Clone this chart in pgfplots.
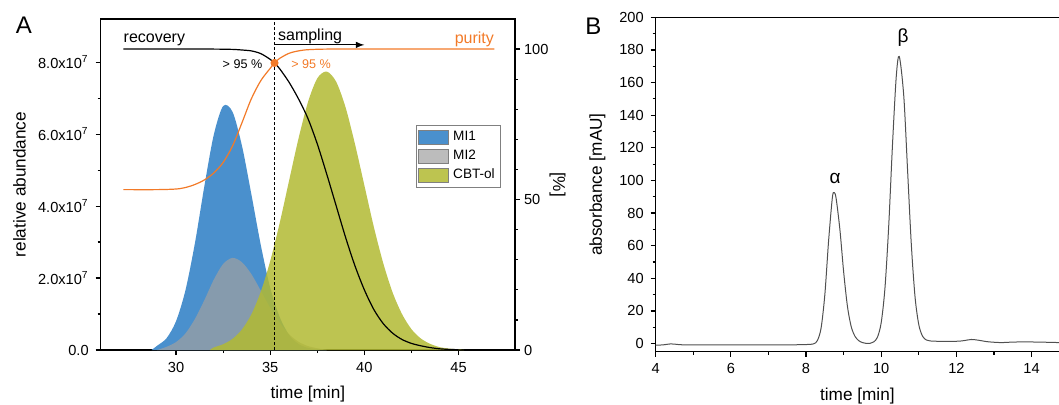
\documentclass[border=0pt]{standalone}
\usepackage{fontspec}
\setmainfont{Liberation Sans}
\usepackage{pgfplots}
\pgfplotsset{compat=1.18}

\definecolor{mblue}{RGB}{74,144,205}
\definecolor{mgray}{RGB}{160,160,160}
\definecolor{mgreen}{RGB}{178,186,50}
\definecolor{morange}{RGB}{242,122,40}
\definecolor{trace}{RGB}{80,80,80}

\pgfplotsset{
  every axis/.append style={
    scale only axis, tick align=outside,
    axis line style={line width=0.7pt},
    major tick length=2.5pt, minor tick length=1.5pt,
    every tick/.style={black, line width=0.6pt},
    tick label style={font=\fontsize{7.3}{8}\selectfont},
    label style={font=\fontsize{8.6}{10}\selectfont},
    /pgf/number format/assume math mode=true,
  },
}

\begin{document}
\begin{tikzpicture}

% ---------- panel A, left axis: abundance (units of 1e7)
\begin{axis}[
  name=aleft, at={(50.35pt,27pt)}, anchor=south west,
  width=207.15pt, height=165.5pt,
  xmin=26, xmax=48, ymin=0, ymax=9.2,
  xtick={30,35,40,45}, minor x tick num=1,
  ytick={0,2,4,6,8}, minor y tick num=1,
  yticklabels={0.0, 2.0x10\textsuperscript{7}, 4.0x10\textsuperscript{7}, 6.0x10\textsuperscript{7}, 8.0x10\textsuperscript{7}},
  xtick pos=left, ytick pos=left,
  xlabel={time [min]}, ylabel={relative abundance},
  ylabel style={at={(axis description cs:-0.196,0.5)}, anchor=center},
  legend style={at={(0.761,0.680)}, anchor=north west, draw=gray,
    font=\fontsize{6.8}{7.5}\selectfont, inner sep=1pt, row sep=-0.8pt,
    cells={anchor=west}},
  legend image code/.code={\draw[#1,draw=gray] (0pt,-3.5pt) rectangle (15pt,3.5pt);},
]
\addplot[fill=mblue, draw=none, smooth] coordinates {
  (28.7,0) (29,0.12) (29.5,0.33) (30,0.80) (30.5,1.66) (31,2.96) (31.5,4.54)
  (32,5.97) (32.5,6.78) (33,6.62) (33.5,5.68) (34,4.33) (34.5,2.92)
  (35,1.73) (35.5,0.92) (36,0.42) (36.5,0.17) (37,0.06) (37.5,0.02) (38,0)
} \closedcycle;
\addlegendentry{MI1}
\addplot[fill=mgray, fill opacity=0.7, draw=none, smooth] coordinates {
  (29,0) (29.5,0.09) (30,0.22) (30.5,0.46) (31,0.86) (31.5,1.38) (32,1.95)
  (32.5,2.39) (33,2.56) (33.5,2.44) (34,2.11) (34.5,1.65) (35,1.17) (35.5,0.76)
  (36,0.44) (36.5,0.23) (37,0.11) (37.5,0.05) (38,0)
} \closedcycle;
\addlegendentry{MI2}
\addplot[fill=mgreen, fill opacity=0.85, draw=none, smooth] coordinates {
  (31.8,0) (32,0.07) (32.5,0.16) (33,0.31) (33.5,0.57) (34,0.99) (34.5,1.62)
  (35,2.47) (35.5,3.52) (36,4.70) (36.5,5.87) (37,6.88) (37.5,7.55) (38,7.74)
  (38.5,7.46) (39,6.75) (39.5,5.73) (40,4.58) (40.5,3.43) (41,2.42) (41.5,1.60)
  (42,1.00) (42.5,0.58) (43,0.32) (43.5,0.17) (44,0.08) (44.5,0.04) (45,0.015) (45.3,0)
} \closedcycle;
\addlegendentry{CBT-ol}
\end{axis}

% ---------- panel A, right axis: recovery / purity in %
\begin{axis}[
  at={(aleft.south west)}, anchor=south west,
  width=207.15pt, height=165.5pt,
  xmin=26, xmax=48, ymin=0, ymax=110,
  axis x line=none, axis y line*=right,
  ytick={0,50,100}, minor y tick num=4,
  yticklabel style={xshift=-1.5pt},
  ylabel={[\%]},
  ylabel style={at={(axis description cs:1.103,0.5)}, anchor=center, rotate=180},
  clip=false,
]
\addplot[black, dash pattern=on 1.5pt off 1pt, line width=0.4pt] coordinates {(35.23,0) (35.23,110)};
\addplot[black, line width=0.6pt, smooth] coordinates {
  (27.2,100) (30,100) (32,100) (33,99.9) (33.5,99.7) (34,99.4) (34.5,98.5)
  (35,96.6) (35.23,95.4) (35.5,93.5) (36,89) (36.5,83.5) (37,77) (37.5,68.5)
  (38,58.5) (38.5,48) (39,37.5) (39.5,28) (40,20) (40.5,13.5) (41,8.8)
  (41.5,5.6) (42,3.5) (42.5,2.2) (43,1.4) (43.5,0.8) (44,0.4) (44.5,0.2) (45,0.1)
};
\addplot[morange, line width=0.6pt, smooth] coordinates {
  (27.2,53.3) (29,53.3) (30,53.5) (30.5,54) (31,55) (31.5,56.5) (32,58.8)
  (32.5,62.3) (33,67.8) (33.5,75.5) (34,83.5) (34.5,89.5) (35,93.6) (35.23,95.4)
  (35.5,96.9) (36,98.6) (36.5,99.4) (37,99.8) (38,100) (40,100) (46.9,100)
};
\addplot[black, line width=0.5pt, -latex] coordinates {(35.23,101.4) (40.0,101.4)};
\addplot[only marks, mark=*, mark size=1.8pt, morange] coordinates {(35.23,95.4)};
\node[anchor=west, inner sep=0pt, font=\fontsize{8}{9}\selectfont] at (axis cs:27.2,103.2) {recovery};
\node[anchor=west, inner sep=0pt, font=\fontsize{8}{9}\selectfont] at (axis cs:35.4,104.3) {sampling};
\node[anchor=east, inner sep=0pt, text=morange, font=\fontsize{8}{9}\selectfont] at (axis cs:46.9,103.2) {purity};
\node[anchor=east, inner sep=0pt, font=\fontsize{6.3}{7}\selectfont] at (axis cs:34.6,95) {> 95 \%};
\node[anchor=west, inner sep=0pt, text=morange, font=\fontsize{6.3}{7}\selectfont] at (axis cs:36.1,95) {> 95 \%};
\end{axis}

% ---------- panel B: absorbance trace
\begin{axis}[
  at={(327.85pt,26.15pt)}, anchor=south west,
  width=201.65pt, height=167.2pt,
  xmin=4, xmax=14.73, ymin=-5, ymax=200,
  axis y line*=left, axis x line*=box,
  xtick={4,6,8,10,12,14}, minor x tick num=1,
  ytick={0,20,...,200}, minor y tick num=1,
  xtick pos=left, ytick pos=left,
  xlabel={time [min]}, ylabel={absorbance [mAU]},
  clip=false,
]
\addplot[trace, line width=0.5pt, smooth, tension=0.5] coordinates {
  (4.0,-1.0) (4.2,-0.8) (4.4,-0.2) (4.6,-0.6) (4.8,-0.8) (5.5,-0.8) (6.5,-0.8)
  (7.5,-0.8) (8.0,-0.6) (8.2,-0.2) (8.3,1.8) (8.4,9.5) (8.5,30) (8.6,63)
  (8.7,89.5) (8.75,92.5) (8.8,89) (8.9,70) (9.0,44) (9.1,23) (9.2,10.5)
  (9.3,4.5) (9.4,1.8) (9.5,0.6) (9.6,0.1) (9.7,0.1) (9.8,1.0) (9.9,3.9)
  (10.0,12.9) (10.1,34.2) (10.2,72.4) (10.3,122) (10.4,163.7) (10.48,176)
  (10.6,151.7) (10.7,106.7) (10.8,61) (10.9,28.5) (11.0,11.5) (11.1,4.5)
  (11.2,2.2) (11.3,1.6) (11.5,1.4) (12.0,1.4) (12.2,1.8) (12.4,2.5) (12.6,2.0)
  (12.8,1.2) (13.0,0.8) (13.2,0.6) (13.5,0.9) (13.8,1.0) (14.2,0.9) (14.73,0.6)
};
\node[font=\fontsize{9.5}{10}\selectfont] at (axis cs:8.77,101) {α};
\node[font=\fontsize{9.5}{10}\selectfont] at (axis cs:10.58,187.7) {β};
\end{axis}

\node[font=\fontsize{12}{13}\selectfont] at (12pt,189.5pt) {A};
\node[font=\fontsize{12}{13}\selectfont] at (296.7pt,188.7pt) {B};

\pgfresetboundingbox
\useasboundingbox (0pt,0pt) rectangle (529.5pt,202pt);
\end{tikzpicture}
\end{document}
